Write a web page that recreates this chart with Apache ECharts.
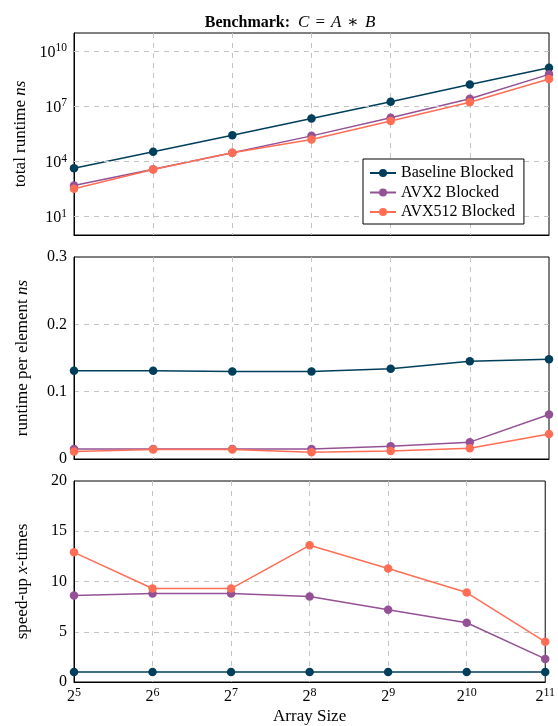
<!DOCTYPE html>
<html>
<head>
<meta charset="utf-8">
<script src="https://cdn.jsdelivr.net/npm/echarts@6/dist/echarts.min.js"></script>
<style>html,body{margin:0;padding:0;background:#fff}#c{width:558px;height:726px}</style>
</head>
<body>
<div id="c"></div>
<script>
// Array sizes as powers of two (exponents)
var exponents = [5, 6, 7, 8, 9, 10, 11];
var seriesNames = ['Baseline Blocked', 'AVX2 Blocked', 'AVX512 Blocked'];

// Total runtime (ns), log scale
var baselineTotal = [4.3e3, 3.4e4, 2.7e5, 2.2e6, 1.8e7, 1.55e8, 1.27e9];
var avx2Total     = [4.9e2, 3.8e3, 3.0e4, 2.5e5, 2.4e6, 2.6e7, 5.6e8];
var avx512Total   = [3.3e2, 3.7e3, 3.0e4, 1.6e5, 1.6e6, 1.7e7, 3.1e8];

// Runtime per element (ns)
var baselinePer = [0.131, 0.131, 0.130, 0.130, 0.134, 0.145, 0.148];
var avx2Per     = [0.015, 0.015, 0.015, 0.015, 0.019, 0.025, 0.066];
var avx512Per   = [0.011, 0.014, 0.014, 0.010, 0.012, 0.016, 0.037];

// Speed-up (x times)
var baselineSpeed = [1, 1, 1, 1, 1, 1, 1];
var avx2Speed     = [8.6, 8.8, 8.8, 8.5, 7.2, 5.9, 2.3];
var avx512Speed   = [12.9, 9.3, 9.3, 13.6, 11.3, 8.9, 4.0];

// Tick labels
var logTickValues = [1e1, 1e4, 1e7, 1e10];

var colors = ['#003f5c', '#955196', '#ff6e54'];
var FONT = '"Liberation Serif", "DejaVu Serif", serif';
var gridLine = {show: true, showMinLine: false, showMaxLine: false,
  lineStyle: {color: '#c4c4c4', type: [5, 5], width: 1}};

var chart = echarts.init(document.getElementById('c'), null, {renderer: 'canvas'});

function xAxis(idx, showLabels) {
  return {
    type: 'category', gridIndex: idx, data: exponents, boundaryGap: false,
    axisLine: {show: true, lineStyle: {color: '#000', width: 1}},
    axisTick: {show: false},
    splitLine: gridLine,
    axisLabel: showLabels ? {
      show: true, margin: 5, fontFamily: FONT,
      formatter: function (v) { return '{b|2}{s|' + v + '}'; },
      rich: {
        b: {fontFamily: FONT, fontSize: 16, color: '#000', lineHeight: 18, verticalAlign: 'bottom'},
        s: {fontFamily: FONT, fontSize: 12, color: '#000', lineHeight: 18, verticalAlign: 'top', padding: [0, 0, 7, 0]}
      }
    } : {show: false},
    name: showLabels ? 'Array Size' : '',
    nameLocation: 'middle', nameGap: 26,
    nameTextStyle: {fontFamily: FONT, fontSize: 17, color: '#000'}
  };
}

var richName = {
  n: {fontFamily: FONT, fontSize: 17, color: '#000'},
  i: {fontFamily: FONT, fontSize: 17, color: '#000', fontStyle: 'italic'}
};

function mkSeries(name, data, idx, color) {
  return {
    name: name, type: 'line', xAxisIndex: idx, yAxisIndex: idx, data: data,
    symbol: 'circle', symbolSize: 8.5, showSymbol: true,
    lineStyle: {width: 1.5, color: color}, itemStyle: {color: color},
    emphasis: {disabled: true}, animation: false
  };
}

var series = [];
var sets = [
  [baselineTotal, avx2Total, avx512Total],
  [baselinePer, avx2Per, avx512Per],
  [baselineSpeed, avx2Speed, avx512Speed]
];
for (var g = 0; g < 3; g++) {
  for (var k = 0; k < 3; k++) {
    series.push(mkSeries(seriesNames[k], sets[g][k], g, colors[k]));
  }
}
// dashed horizontal grid lines on the log panel at labeled decades
series.push({
  type: 'line', xAxisIndex: 0, yAxisIndex: 0, data: [], silent: true,
  markLine: {
    silent: true, symbol: 'none', label: {show: false}, animation: false,
    lineStyle: {color: '#c4c4c4', type: [5, 5], width: 1},
    data: logTickValues.map(function (v) { return {yAxis: v}; })
  }
});

var axisLbl = {fontFamily: FONT, fontSize: 16, color: '#000', margin: 7};

var option = {
  backgroundColor: '#fff',
  animation: false,
  color: colors,
  title: {
    text: '{b|Benchmark:}{sp| }{i|C}{o|=}{i|A}{o|∗}{i|B}',
    left: 285, top: 9, textAlign: 'center',
    textStyle: {
      fontFamily: FONT, fontSize: 16, color: '#000', fontWeight: 'normal',
      rich: {
        b: {fontFamily: FONT, fontSize: 16, fontWeight: 'bold', color: '#000'},
        sp: {fontFamily: FONT, fontSize: 16, fontWeight: 'normal', color: '#000', padding: [0, 4, 0, 0]},
        i: {fontFamily: FONT, fontSize: 17, fontWeight: 'normal', fontStyle: 'italic', color: '#000'},
        o: {fontFamily: FONT, fontSize: 17, fontWeight: 'normal', color: '#000', padding: [0, 6, 0, 6]}
      }
    }
  },
  legend: {
    data: seriesNames, orient: 'vertical',
    left: 363, top: 159,
    padding: [6, 9, 4, 6],
    itemWidth: 26, itemHeight: 10, itemGap: 3.5,
    borderColor: '#000', borderWidth: 1, backgroundColor: '#fff',
    textStyle: {fontFamily: FONT, fontSize: 16, lineHeight: 16, color: '#000'},
    selectedMode: false, z: 10
  },
  grid: [
    {left: 74, top: 33, width: 475, height: 202, show: true, borderColor: '#000', borderWidth: 1, backgroundColor: 'transparent'},
    {left: 74, top: 257, width: 475, height: 202, show: true, borderColor: '#000', borderWidth: 1, backgroundColor: 'transparent'},
    {left: 74, top: 481, width: 475, height: 202, show: true, borderColor: '#000', borderWidth: 1, backgroundColor: 'transparent'}
  ],
  xAxis: [xAxis(0, false), xAxis(1, false), xAxis(2, true)],
  yAxis: [
    {
      type: 'log', gridIndex: 0, logBase: 10, min: 1, max: 1e11,
      axisLine: {show: true, lineStyle: {color: '#000'}},
      axisTick: {show: false},
      splitLine: {show: false},
      axisLabel: {
        show: true, margin: 7,
        customValues: logTickValues,
        formatter: function (v) {
          var e = Math.round(Math.log10(v));
          return '{b|10}{s|' + e + '}';
        },
        rich: {
          b: {fontFamily: FONT, fontSize: 16, color: '#000', lineHeight: 18, verticalAlign: 'bottom'},
          s: {fontFamily: FONT, fontSize: 11.5, color: '#000', lineHeight: 18, verticalAlign: 'top', padding: [0, 0, 7, 0]}
        }
      },
      name: '{n|total runtime }{i|ns}', nameLocation: 'middle', nameGap: 43,
      nameTextStyle: {fontFamily: FONT, fontSize: 17, color: '#000', rich: richName}
    },
    {
      type: 'value', gridIndex: 1, min: 0, max: 0.3, interval: 0.1,
      axisLine: {show: true, lineStyle: {color: '#000'}},
      axisTick: {show: false},
      splitLine: gridLine,
      axisLabel: Object.assign({}, axisLbl, {
        formatter: function (v) { return v === 0 ? '0' : v.toFixed(1); }}),
      name: '{n|runtime per element }{i|ns}', nameLocation: 'middle', nameGap: 43,
      nameTextStyle: {fontFamily: FONT, fontSize: 17, color: '#000', rich: richName}
    },
    {
      type: 'value', gridIndex: 2, min: 0, max: 20, interval: 5,
      axisLine: {show: true, lineStyle: {color: '#000'}},
      axisTick: {show: false},
      splitLine: gridLine,
      axisLabel: axisLbl,
      name: '{n|speed-up }{i|x}{n|-times}', nameLocation: 'middle', nameGap: 43,
      nameTextStyle: {fontFamily: FONT, fontSize: 17, color: '#000', rich: richName}
    }
  ],
  series: series
};
chart.setOption(option);
</script>
</body>
</html>
